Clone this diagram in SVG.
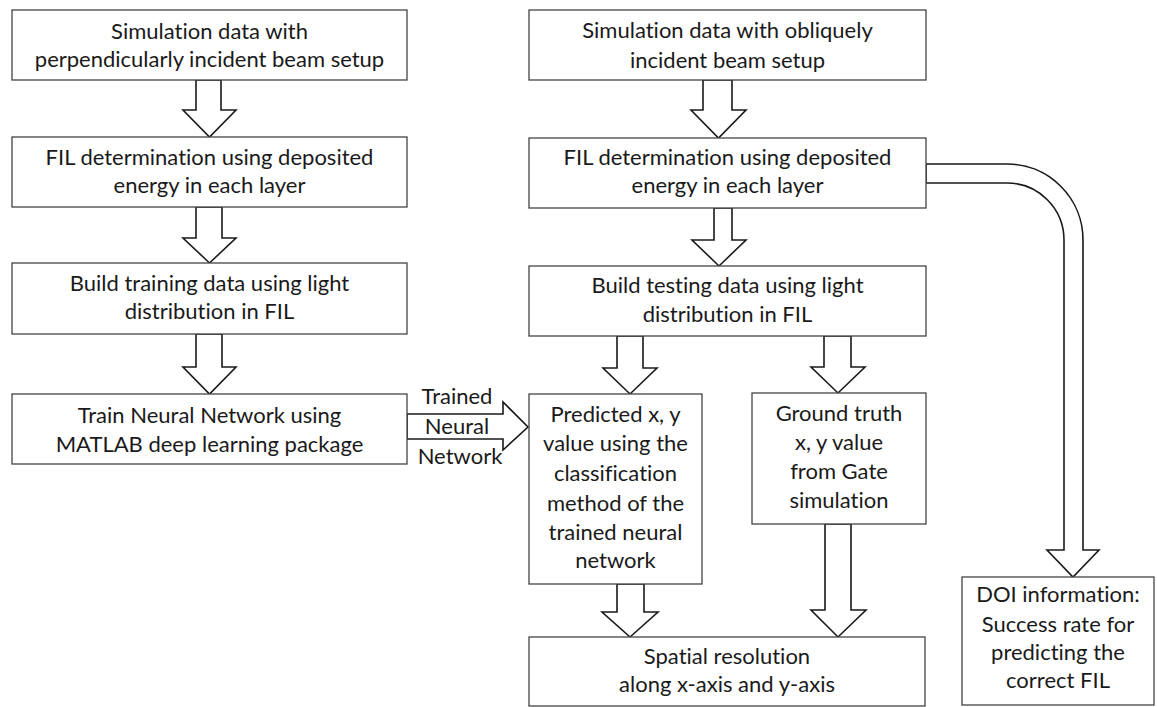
<svg xmlns="http://www.w3.org/2000/svg" width="1157" height="707" viewBox="0 0 1157 707">
<style>
.box{fill:#fff;stroke:#444;stroke-width:1.3}
.arr{fill:#fff;stroke:#1a1a1a;stroke-width:1.6;stroke-linejoin:miter}
text{font-family:Lato,"Open Sans","Liberation Sans",sans-serif;font-size:22px;fill:#1a1a1a;text-anchor:middle;font-variant-ligatures:none}
</style>
<rect width="1157" height="707" fill="#fff"/>
<g id="connectors">
<polygon class="arr" points="196,80 221,80 221,110 236,110 209.5,137 183,110 196,110"/>
<polygon class="arr" points="196,207 222,207 222,238 236,238 209.5,263 183,238 196,238"/>
<polygon class="arr" points="196,334 222,334 222,367 236,367 209.5,394 183,367 196,367"/>
<polygon class="arr" points="703,80 732,80 732,110 746,110 718.5,138 691,110 703,110"/>
<polygon class="arr" points="714,208 732,208 732,240 746,240 719,266 692,240 714,240"/>
<polygon class="arr" points="617,336 643,336 643,368 657,368 630,394 603,368 617,368"/>
<polygon class="arr" points="824,336 851,336 851,367 865,367 838,393 811,367 824,367"/>
<polygon class="arr" points="617,584 644,584 644,612 658,612 630,637 602,612 617,612"/>
<polygon class="arr" points="825,524 851,524 851,610 866,610 838,637 811,610 825,610"/>
<polygon class="arr" points="407,414 503,414 503,402 528,427 503,450 503,439 407,439"/>
<path class="arr" d="M926,164 H1007 A76,76 0 0 1 1083,240 V550 H1099 L1073,577 L1047,550 H1064 V240 A57,57 0 0 0 1007,183 H926 Z"/>
<text x="457" y="404">Trained</text>
<text x="457" y="434">Neural</text>
<text x="460" y="464">Network</text>
</g>
<g id="n1"><rect class="box" x="12" y="10" width="395" height="70"/>
<text x="209.5" y="39">Simulation data with</text><text x="209.5" y="67">perpendicularly incident beam setup</text></g>
<g id="n2"><rect class="box" x="12" y="137" width="395" height="70"/>
<text x="209.5" y="165">FIL determination using deposited</text><text x="209.5" y="193">energy in each layer</text></g>
<g id="n3"><rect class="box" x="12" y="263" width="395" height="71"/>
<text x="209.5" y="291">Build training data using light</text><text x="209.5" y="319">distribution in FIL</text></g>
<g id="n4"><rect class="box" x="12" y="394" width="395" height="70"/>
<text x="209.5" y="423">Train Neural Network using</text><text x="209.5" y="452">MATLAB deep learning package</text></g>
<g id="n5"><rect class="box" x="529" y="10" width="397" height="70"/>
<text x="727.5" y="38">Simulation data with obliquely</text><text x="727.5" y="68">incident beam setup</text></g>
<g id="n6"><rect class="box" x="529" y="138" width="397" height="70"/>
<text x="727.5" y="165">FIL determination using deposited</text><text x="727.5" y="193">energy in each layer</text></g>
<g id="n7"><rect class="box" x="529" y="266" width="397" height="70"/>
<text x="727.5" y="293">Build testing data using light</text><text x="727.5" y="322">distribution in FIL</text></g>
<g id="n8"><rect class="box" x="529" y="394" width="173" height="190"/>
<text x="615.5" y="422">Predicted x, y</text><text x="615.5" y="451">value using the</text><text x="615.5" y="481">classification</text><text x="615.5" y="511">method of the</text><text x="615.5" y="540">trained neural</text><text x="615.5" y="568">network</text></g>
<g id="n9"><rect class="box" x="752" y="393" width="174" height="131"/>
<text x="839" y="421">Ground truth</text><text x="839" y="450">x, y value</text><text x="839" y="479">from Gate</text><text x="839" y="508">simulation</text></g>
<g id="n10"><rect class="box" x="529" y="637" width="396" height="69"/>
<text x="727" y="664">Spatial resolution</text><text x="727" y="692">along x-axis and y-axis</text></g>
<g id="n11"><rect class="box" x="962" y="577" width="192" height="128"/>
<text x="1058" y="602">DOI information:</text><text x="1058" y="632">Success rate for</text><text x="1058" y="660">predicting the</text><text x="1058" y="688">correct FIL</text></g>
</svg>
